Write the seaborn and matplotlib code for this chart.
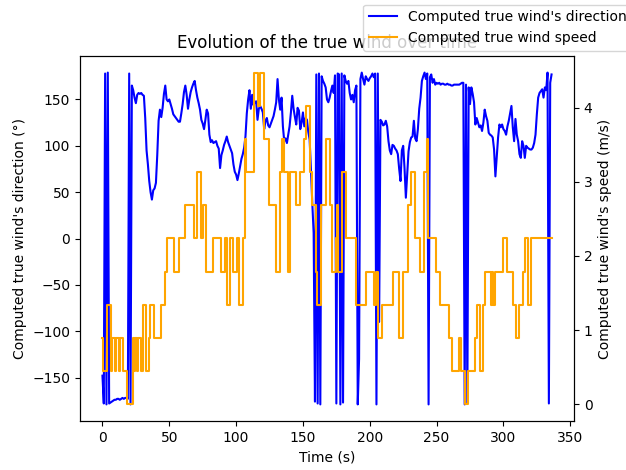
import numpy as np
import pandas as pd
import matplotlib
matplotlib.use("Agg")
import matplotlib.pyplot as plt
from matplotlib.lines import Line2D
import seaborn as sns

# True wind direction (degrees), one sample per second
direction_deg = [
    -148, -178, 178, -179, 179, -178, -177, -176, -175, -174,
    -174, -173, -173, -174, -173, -172, -173, -172, -172, -173,
    178, -179, 165, 160, 152, 146, 155, 157, 156, 157,
    155, 154, 130, 95, 80, 62, 50, 42, 52, 54,
    60, 90, 127, 139, 131, 141, 156, 165, 150, 148,
    150, 145, 140, 134, 132, 130, 128, 126, 126, 135,
    145, 158, 165, 155, 140, 150, 158, 163, 167, 170,
    160, 152, 146, 139, 128, 124, 118, 128, 139, 135,
    112, 104, 106, 103, 104, 105, 100, 97, 76, 90,
    95, 101, 105, 110, 104, 100, 96, 92, 80, 72,
    69, 63, 70, 78, 86, 91, 98, 110, 135, 150,
    160, 140, 155, 144, 147, 148, 128, 140, 143, 140,
    136, 118, 127, 130, 122, 120, 124, 128, 132, 139,
    147, 172, 150, 139, 152, 121, 105, 108, 103, 112,
    121, 136, 154, 140, 131, 123, 141, 138, 118, 125,
    136, 121, 130, 128, 115, 107, 74, 38, 6, -176,
    177, -178, 178, -179, 175, 170, 167, 163, 150, 147,
    152, 159, 165, 157, 176, -178, 178, 177, -179, 178,
    -177, 176, 170, 167, 170, 157, 150, 155, 147, 160,
    165, -179, -130, 172, 179, 172, 166, 175, 172, 170,
    173, 175, 178, 174, 178, -179, 178, -90, 128, 126,
    122, 123, 127, 121, 105, 95, 91, 101, 100, 97,
    95, 91, 75, 62, 95, 100, 76, 44, 70, 94,
    104, 109, 110, 127, 108, 105, 118, 140, 152, 170,
    175, 179, 172, 178, -179, 174, 177, 168, 172, 166,
    168, 167, 168, 166, 167, 167, 166, 166, 167, 166,
    166, 165, 165, 166, 166, 166, 166, 166, 167, 168,
    168, -179, 166, -178, 163, 145, 163, 156, 147, 123,
    130, 125, 120, 122, 116, 125, 139, 132, 127, 114,
    112, 111, 109, 96, 67, 88, 109, 123, 120, 123,
    118, 116, 112, 121, 127, 135, 143, 120, 105, 129,
    112, 105, 91, 87, 105, 100, 87, 100, 98, 97,
    96, 96, 98, 103, 112, 134, 152, 157, 159, 161,
    152, 163, 160, 179, -178, 168, 177,
]

# True wind speed, in whole mph as measured, one sample per second
speed_mph = [
    2, 1, 1, 1, 3, 3, 3, 1, 2, 2,
    1, 2, 2, 1, 2, 2, 1, 1, 1, 0,
    0, 0, 0, 2, 1, 2, 1, 2, 2, 1,
    1, 3, 3, 1, 1, 2, 3, 3, 3, 2,
    2, 2, 2, 2, 3, 3, 3, 4, 4, 5,
    5, 5, 5, 5, 4, 4, 4, 4, 5, 5,
    5, 5, 6, 6, 6, 6, 6, 6, 6, 5,
    5, 7, 7, 7, 5, 5, 6, 6, 4, 4,
    4, 4, 4, 5, 5, 5, 5, 5, 5, 4,
    4, 4, 5, 5, 3, 3, 5, 5, 4, 4,
    4, 5, 5, 3, 3, 3, 5, 8, 7, 7,
    7, 7, 7, 7, 10, 10, 10, 9, 10, 10,
    10, 8, 8, 8, 8, 6, 6, 6, 6, 6,
    4, 4, 4, 7, 7, 8, 7, 7, 7, 4,
    4, 7, 7, 7, 7, 6, 6, 6, 7, 7,
    7, 8, 8, 9, 9, 9, 7, 6, 6, 6,
    4, 3, 3, 3, 6, 6, 6, 6, 8, 8,
    8, 6, 4, 4, 4, 5, 6, 4, 4, 4,
    7, 7, 7, 5, 5, 5, 5, 5, 5, 5,
    3, 3, 3, 3, 3, 3, 3, 3, 4, 4,
    4, 4, 4, 4, 3, 4, 4, 2, 2, 2,
    3, 3, 3, 3, 3, 3, 3, 3, 4, 4,
    4, 4, 2, 2, 2, 4, 4, 4, 4, 6,
    6, 7, 7, 7, 5, 5, 5, 5, 4, 4,
    4, 7, 7, 8, 5, 5, 5, 5, 5, 5,
    4, 4, 4, 3, 3, 3, 3, 3, 3, 3,
    2, 2, 1, 1, 1, 1, 1, 2, 2, 1,
    1, 1, 0, 0, 1, 1, 1, 1, 1, 2,
    2, 3, 3, 1, 1, 3, 3, 4, 4, 4,
    4, 3, 4, 3, 4, 4, 4, 4, 4, 4,
    5, 5, 5, 4, 4, 4, 4, 4, 3, 3,
    2, 2, 3, 3, 3, 4, 4, 5, 5, 3,
    3, 5, 5, 5, 5, 5, 5, 5, 5, 5,
    5, 5, 5, 5, 5, 5, 5,
]

series_labels = ["Computed true wind's direction", "Computed true wind speed"]
series_colors = ["blue", "orange"]

MPH_TO_MS = 0.44704
time_s = np.arange(len(direction_deg))

df = pd.DataFrame({
    "time": time_s,
    "direction": direction_deg,
    "speed": np.array(speed_mph[:len(direction_deg)]) * MPH_TO_MS,
})

fig = plt.figure(figsize=(6.26, 4.70), dpi=100)
ax = fig.add_axes([80 / 626, 49 / 470, 494 / 626, 365 / 470])
ax2 = ax.twinx()

sns.lineplot(data=df, x="time", y="direction", ax=ax, color=series_colors[0],
             linewidth=1.5, estimator=None, sort=False, legend=False)
sns.lineplot(data=df, x="time", y="speed", ax=ax2, color=series_colors[1],
             linewidth=1.5, estimator=None, sort=False, drawstyle="steps-mid",
             legend=False)

for a in (ax, ax2):
    leg = a.get_legend()
    if leg is not None:
        leg.remove()

ax.set_xlabel("Time (s)")
ax.set_ylabel("Computed true wind's direction (°)")
ax2.set_ylabel("Computed true wind's speed (m/s)")
ax.set_title("Evolution of the true wind over time")
ax.set_xticks([0, 50, 100, 150, 200, 250, 300, 350])
ax.set_yticks([-150, -100, -50, 0, 50, 100, 150])
ax2.set_yticks([0, 1, 2, 3, 4])

handles = [Line2D([], [], color=c, linewidth=1.5) for c in series_colors]
fig.legend(handles, series_labels, loc="upper right", bbox_to_anchor=(1.021, 1.005))

fig.savefig("out.png", dpi=100)
